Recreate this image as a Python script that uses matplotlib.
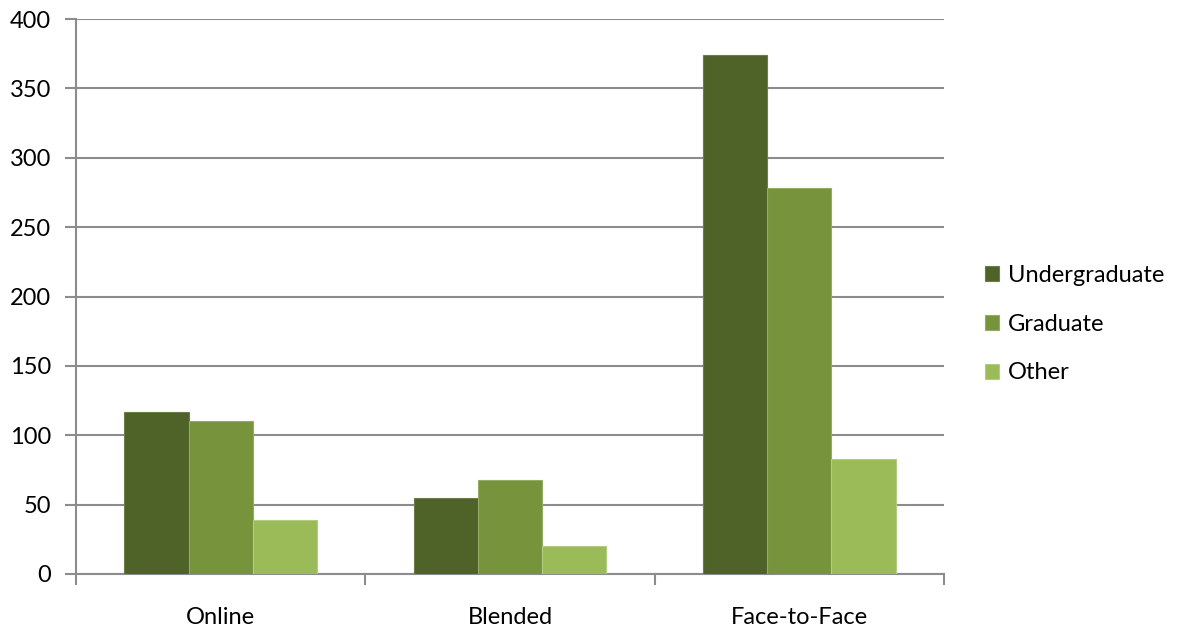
import numpy as np
import matplotlib.pyplot as plt

plt.rcParams['font.family'] = ['Lato', 'DejaVu Sans']

categories = ['Online', 'Blended', 'Face-to-Face']
series_names = ['Undergraduate', 'Graduate', 'Other']
undergraduate = [117, 55, 374]
graduate = [110, 68, 278]
other = [39, 20, 83]
colors = ['#4F6228', '#77933C', '#9BBB59']
edge_colors = ['#6b7d48', '#93ab63', '#b3cc84']

fig = plt.figure(figsize=(11.82, 6.30), dpi=100)
ax = fig.add_axes([76 / 1182, 56 / 630, (944 - 76) / 1182, (574 - 19) / 630])

x = np.arange(len(categories))
width = 1 / 4.5
for i, (vals, name) in enumerate(zip([undergraduate, graduate, other], series_names)):
    ax.bar(x + (i - 1) * width, vals, width, color=colors[i], label=name,
           edgecolor=edge_colors[i], linewidth=0.8, zorder=3)

grid_color = '#8c8c8c'
ax.set_ylim(0, 400)
ax.set_xlim(-0.5, 2.5)
ax.set_yticks(range(0, 401, 50))
ax.yaxis.grid(True, color=grid_color, linewidth=1.5, zorder=0)
ax.set_axisbelow(True)

# category labels sit between boundary tick marks
ax.set_xticks([-0.5, 0.5, 1.5, 2.5])
ax.set_xticklabels([])
ax.set_xticks(x, minor=True)
ax.set_xticklabels(categories, minor=True, fontsize=17)
ax.tick_params(axis='x', which='minor', length=0, pad=24)
ax.tick_params(axis='x', which='major', length=8, color=grid_color, width=1.5)
ax.tick_params(axis='y', length=8, color=grid_color, width=1.5, labelsize=17, pad=10)

for side in ['top', 'right']:
    ax.spines[side].set_visible(False)
for side in ['left', 'bottom']:
    ax.spines[side].set_color(grid_color)
    ax.spines[side].set_linewidth(1.5)

ax.legend(loc='center left', bbox_to_anchor=(1.023, 0.45), frameon=False,
          fontsize=17, handlelength=0.6, handleheight=0.6, handletextpad=0.35,
          labelspacing=1.17)

fig.savefig('out.png', dpi=100)
